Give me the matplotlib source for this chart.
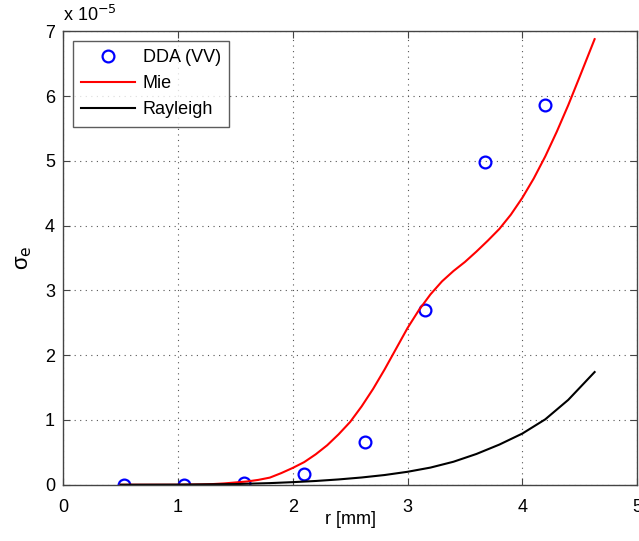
import matplotlib
matplotlib.use("Agg")
import matplotlib.pyplot as plt

plt.rcParams['font.family'] = ['Liberation Sans', 'DejaVu Sans']

# DDA (VV) points
dda_r = [0.525, 1.05, 1.575, 2.10, 2.625, 3.15, 3.675, 4.20]
dda_s = [0.0, 0.0, 0.03, 0.16, 0.66, 2.70, 4.98, 5.87]

# Mie curve
mie_r = [0.5, 0.8, 1.0, 1.1, 1.2, 1.3, 1.4, 1.5, 1.6, 1.7, 1.8, 1.9, 2.0, 2.1, 2.2, 2.3, 2.4,
         2.5, 2.6, 2.7, 2.8, 2.9, 3.0, 3.1, 3.2, 3.3, 3.4, 3.5, 3.6, 3.7, 3.8, 3.9, 4.0,
         4.1, 4.2, 4.3, 4.4, 4.5, 4.63]
mie_s = [0.0, 0.0, 0.0, 0.002, 0.005, 0.01, 0.02, 0.035, 0.05, 0.075, 0.11, 0.18, 0.26, 0.35, 0.47, 0.61, 0.78,
         0.97, 1.21, 1.48, 1.78, 2.10, 2.42, 2.70, 2.94, 3.14, 3.30, 3.44, 3.60, 3.77, 3.95, 4.17, 4.43,
         4.73, 5.07, 5.45, 5.86, 6.30, 6.88]

# Rayleigh curve
ray_r = [0.5, 1.0, 1.5, 1.8, 2.0, 2.2, 2.4, 2.6, 2.8, 3.0, 3.2, 3.4, 3.6, 3.8, 4.0, 4.2, 4.4, 4.63]
ray_s = [0.0, 0.002, 0.01, 0.025, 0.04, 0.058, 0.082, 0.112, 0.15, 0.20, 0.265, 0.355, 0.475, 0.62, 0.79, 1.01, 1.31, 1.74]

fig = plt.figure(figsize=(6.39, 5.41), dpi=100)
ax = fig.add_axes([0.099, 0.104, 0.898, 0.838])

ax.plot(dda_r, dda_s, 'o', mfc='none', mec='#0000ff', mew=1.6, ms=8.5, label='DDA (VV)')
ax.plot(mie_r, mie_s, '-', color='#ff0000', lw=1.5, label='Mie')
ax.plot(ray_r, ray_s, '-', color='#000000', lw=1.5, label='Rayleigh')

ax.set_xlim(0, 5)
ax.set_ylim(0, 7)
ax.set_xticks(range(0, 6))
ax.set_yticks(range(0, 8))
ax.grid(True, linestyle=(0, (1, 4)), color='#555555', lw=0.8)
ax.tick_params(direction='in', top=True, right=True, labelsize=13, length=5, color='#444444')
ax.tick_params(axis='x', pad=10)
ax.tick_params(axis='y', pad=6)
for s in ax.spines.values():
    s.set_color('#444444')
    s.set_linewidth(1.0)

ax.set_xlabel('r [mm]', fontsize=13, labelpad=-3)
ax.set_ylabel(r'σ$_{\rm e}$', fontsize=16, labelpad=8)
ax.text(0.0, 1.014, r'x 10$^{-5}$', transform=ax.transAxes, fontsize=13, ha='left', va='bottom')

leg = ax.legend(loc='upper left', fontsize=13, frameon=True, fancybox=False, edgecolor='#333333',
                borderaxespad=0.55, handlelength=3.0, handletextpad=0.4, borderpad=0.45, labelspacing=0.5)
leg.get_frame().set_linewidth(1.0)

fig.savefig('out.png', dpi=100)
